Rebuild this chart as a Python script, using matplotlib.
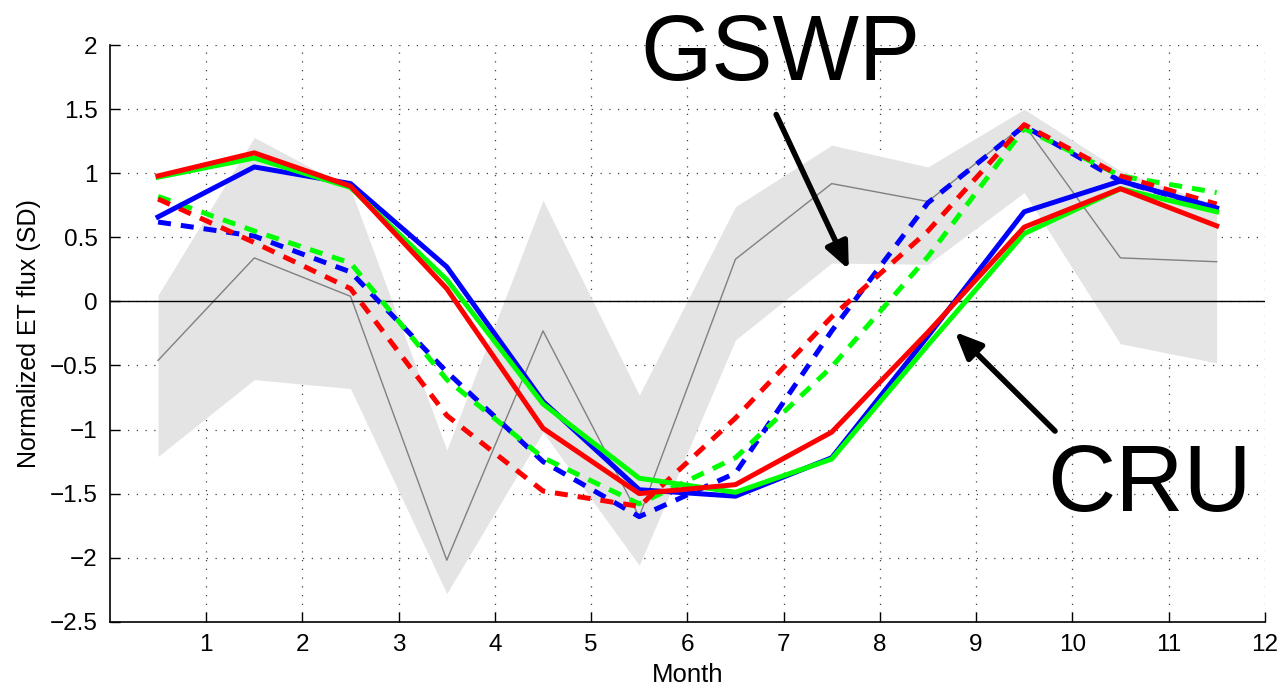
import numpy as np
import matplotlib
matplotlib.use("Agg")
import matplotlib.pyplot as plt

plt.rcParams['font.family'] = ['Liberation Sans', 'DejaVu Sans']

months = [0.5, 1.5, 2.5, 3.5, 4.5, 5.5, 6.5, 7.5, 8.5, 9.5, 10.5, 11.5]

# observed spread (gray band) and its mean line
band_upper = [0.05, 1.28, 0.88, -1.16, 0.79, -0.73, 0.74, 1.22, 1.05, 1.50, 1.02, 0.75]
band_lower = [-1.21, -0.61, -0.68, -2.28, -1.02, -2.06, -0.30, 0.30, 0.29, 0.85, -0.33, -0.48]
band_mean = [-0.46, 0.34, 0.04, -2.02, -0.23, -1.68, 0.33, 0.92, 0.78, 1.38, 0.34, 0.31]

# CRU-forced runs (solid)
cru_blue = [0.66, 1.05, 0.92, 0.27, -0.78, -1.47, -1.52, -1.22, -0.27, 0.70, 0.94, 0.73]
cru_green = [0.97, 1.12, 0.89, 0.17, -0.80, -1.38, -1.49, -1.23, -0.34, 0.53, 0.88, 0.70]
cru_red = [0.98, 1.16, 0.90, 0.10, -0.99, -1.50, -1.43, -1.02, -0.24, 0.58, 0.88, 0.59]

# GSWP-forced runs (dashed)
gswp_blue = [0.62, 0.51, 0.23, -0.55, -1.25, -1.68, -1.34, -0.23, 0.77, 1.37, 0.94, 0.72]
gswp_green = [0.82, 0.55, 0.30, -0.61, -1.22, -1.58, -1.22, -0.51, 0.35, 1.35, 0.98, 0.85]
gswp_red = [0.80, 0.46, 0.10, -0.89, -1.48, -1.60, -0.91, -0.12, 0.55, 1.38, 0.98, 0.76]

fig = plt.figure(figsize=(12.86, 6.92), dpi=100)
ax = fig.add_axes([0.0855, 0.1016, 0.898, 0.833])

ax.fill_between(months, band_lower, band_upper, color='#e4e4e4', lw=0, zorder=1)
ax.plot(months, band_mean, color='#808080', lw=1.0, zorder=2)
ax.axhline(0, color='black', lw=1.0, zorder=2)

dash = (0, (2.6, 2.0))
ax.plot(months, gswp_blue, color='#0000ff', lw=3.6, ls=dash, zorder=3)
ax.plot(months, gswp_green, color='#00ff00', lw=3.6, ls=dash, zorder=3)
ax.plot(months, gswp_red, color='#ff0000', lw=3.6, ls=dash, zorder=3)

ax.plot(months, cru_blue, color='#0000ff', lw=3.6, zorder=4)
ax.plot(months, cru_green, color='#00ff00', lw=3.6, zorder=4)
ax.plot(months, cru_red, color='#ff0000', lw=3.6, zorder=4)

ax.set_xlim(0, 12)
ax.set_ylim(-2.5, 2)
ax.set_xticks(range(1, 13))
ax.set_yticks(np.arange(-2.5, 2.01, 0.5))
ax.set_yticklabels(['\u22122.5', '\u22122', '\u22121.5', '\u22121', '\u22120.5',
                    '0', '0.5', '1', '1.5', '2'])
ax.tick_params(direction='in', length=7, width=1, labelsize=17.5, pad=9)
ax.grid(True, ls=(0, (1, 6)), color='0.25', lw=0.9)
ax.set_axisbelow(True)

for side in ['top', 'right']:
    ax.spines[side].set_visible(False)
for side in ['left', 'bottom']:
    ax.spines[side].set_linewidth(1.2)

ax.set_xlabel("Month", fontsize=18.5, labelpad=5)
ax.set_ylabel("Normalized ET flux (SD)", fontsize=18, labelpad=6)

# big annotations, placed in figure pixels (from bottom-left)
ax.text(780, 692 - 80, "GSWP", transform=None, fontsize=66, ha='center', va='baseline')
ax.text(1150, 692 - 511, "CRU", transform=None, fontsize=68, ha='center', va='baseline')

arrow_style = dict(arrowstyle='-|>,head_length=1.6,head_width=0.7', color='black', lw=4)
ax.annotate("", xy=(850, 692 - 272), xytext=(775, 692 - 112),
            xycoords='figure pixels', textcoords='figure pixels', arrowprops=arrow_style)
ax.annotate("", xy=(953, 692 - 330), xytext=(1057, 692 - 433),
            xycoords='figure pixels', textcoords='figure pixels', arrowprops=arrow_style)

fig.savefig("out.png", dpi=100)
